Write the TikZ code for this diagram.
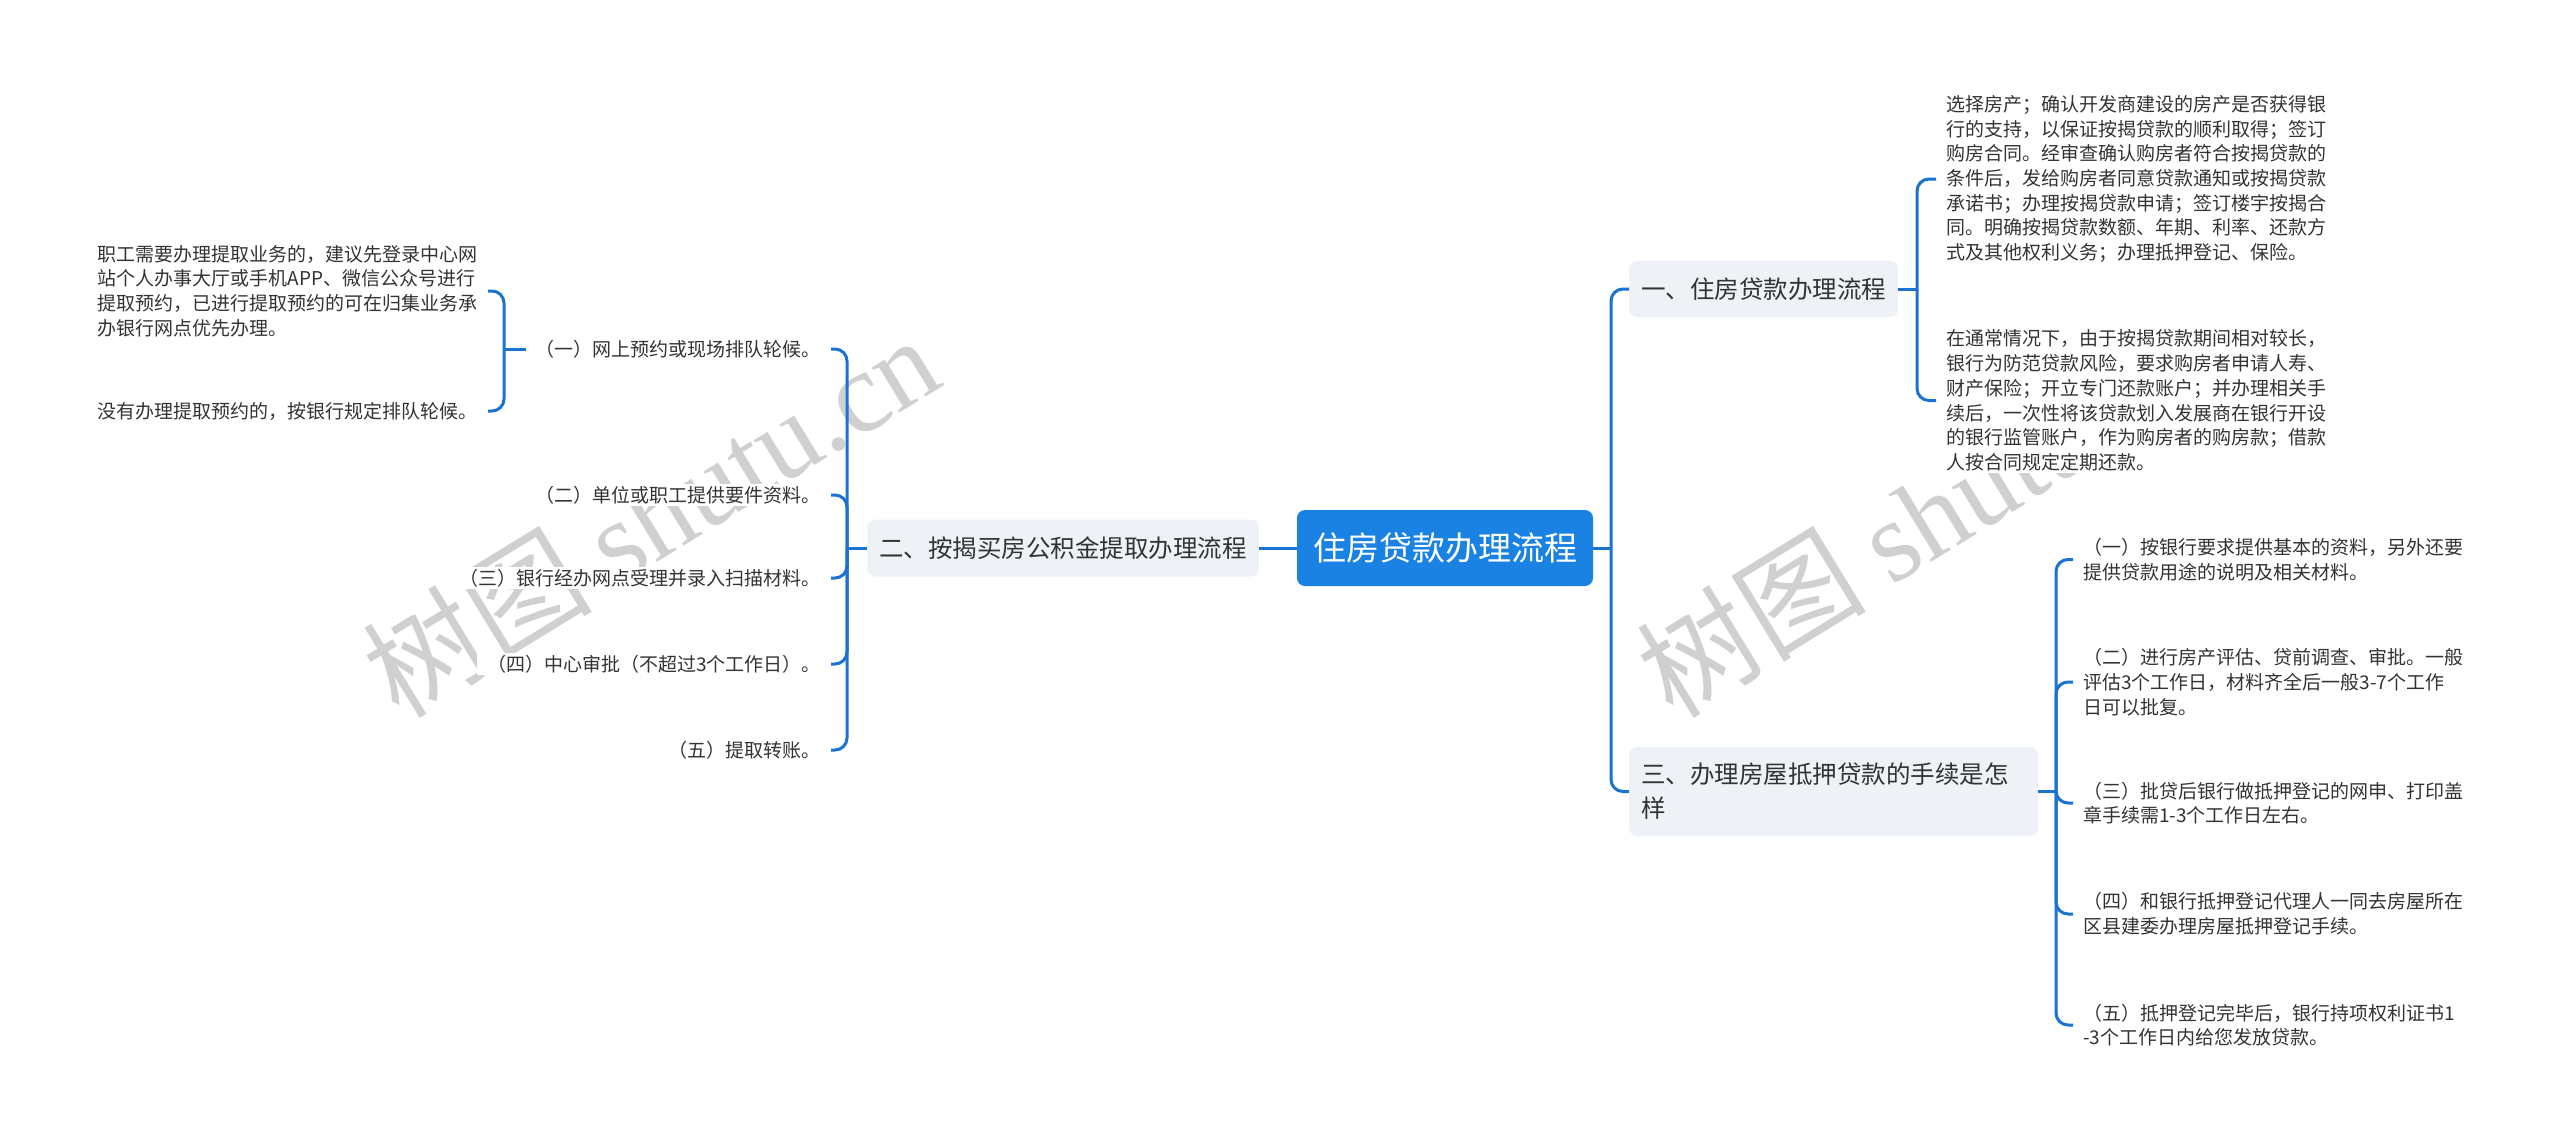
\documentclass[tikz,border=0pt]{standalone}
\usepackage{fontspec}
\setmainfont{Noto Sans CJK SC}
\newfontfamily\wmlatin{Liberation Serif}
\newfontfamily\wmcjk{Noto Sans CJK SC}
\definecolor{rootblue}{HTML}{1A82E2}
\definecolor{linkblue}{HTML}{1B73D1}
\definecolor{branchbg}{HTML}{EEF1F5}
\definecolor{txt}{HTML}{333333}
\definecolor{wmgray}{HTML}{D0D0D0}
\begin{document}
\begin{tikzpicture}[x=1pt,y=-1pt,
  rootbox/.style={fill=rootblue, rounded corners=8pt, text=white,
    font=\fontsize{33}{40}\selectfont, minimum width=296pt, minimum height=76pt, inner sep=0pt},
  branchbox/.style={fill=branchbg, rounded corners=8pt, text=txt,
    font=\fontsize{24.5}{34}\selectfont, inner xsep=12pt, inner ysep=4pt},
  leaf/.style={fill=white, text=txt, font=\fontsize{19}{24.7}\selectfont,
    inner xsep=10pt, inner ysep=2pt},
  link/.style={draw=linkblue, line width=3pt, rounded corners=12pt},
  watermark/.style={text=wmgray, rotate=31.5, inner sep=0pt}
]
\useasboundingbox (0,0) rectangle (2560,1140);
\fill[white] (0,0) rectangle (2560,1140);

% watermarks
\node[watermark] (wm1) at (650,515) {\fontsize{115}{120}\selectfont\wmcjk 树图 \wmlatin shutu.cn};
\node[watermark] (wm2) at (1924,515) {\fontsize{115}{120}\selectfont\wmcjk 树图 \wmlatin shutu.cn};

% root and branches
\node[rootbox] (root) at (1445,548) {住房贷款办理流程};
\node[branchbox, anchor=west, minimum height=56pt] (b1) at (1629,289) {一、住房贷款办理流程};
\node[branchbox, anchor=east, minimum height=57pt] (b2) at (1259,548) {二、按揭买房公积金提取办理流程};
\node[branchbox, anchor=west, minimum height=89pt, text width=385pt, align=left] (b3) at (1629,791.5) {三、办理房屋抵押贷款的手续是怎\\样};

% branch 1 leaves
\node[leaf, anchor=west, align=left] (l1a) at (1936,179) {选择房产；确认开发商建设的房产是否获得银\\行的支持，以保证按揭贷款的顺利取得；签订\\购房合同。经审查确认购房者符合按揭贷款的\\条件后，发给购房者同意贷款通知或按揭贷款\\承诺书；办理按揭贷款申请；签订楼宇按揭合\\同。明确按揭贷款数额、年期、利率、还款方\\式及其他权利义务；办理抵押登记、保险。};
\node[leaf, anchor=west, align=left] (l1b) at (1936,400.5) {在通常情况下，由于按揭贷款期间相对较长，\\银行为防范贷款风险，要求购房者申请人寿、\\财产保险；开立专门还款账户；并办理相关手\\续后，一次性将该贷款划入发展商在银行开设\\的银行监管账户，作为购房者的购房款；借款\\人按合同规定定期还款。};

% branch 3 leaves
\node[leaf, anchor=west, align=left] (c31) at (2073,559.5) {（一）按银行要求提供基本的资料，另外还要\\提供贷款用途的说明及相关材料。};
\node[leaf, anchor=west, align=left] (c32) at (2073,682) {（二）进行房产评估、贷前调查、审批。一般\\评估3个工作日，材料齐全后一般3-7个工作\\日可以批复。};
\node[leaf, anchor=west, align=left] (c33) at (2073,803) {（三）批贷后银行做抵押登记的网申、打印盖\\章手续需1-3个工作日左右。};
\node[leaf, anchor=west, align=left] (c34) at (2073,914) {（四）和银行抵押登记代理人一同去房屋所在\\区县建委办理房屋抵押登记手续。};
\node[leaf, anchor=west, align=left] (c35) at (2073,1025) {（五）抵押登记完毕后，银行持项权利证书1\\-3个工作日内给您发放贷款。};

% branch 2 leaves
\node[leaf, anchor=east] (c21) at (831,349) {（一）网上预约或现场排队轮候。};
\node[leaf, anchor=east] (c22) at (831,495) {（二）单位或职工提供要件资料。};
\node[leaf, anchor=east] (c23) at (831,578) {（三）银行经办网点受理并录入扫描材料。};
\node[leaf, anchor=east] (c24) at (831,664) {（四）中心审批（不超过3个工作日）。};
\node[leaf, anchor=east] (c25) at (831,750) {（五）提取转账。};

% (一) leaves
\node[leaf, anchor=east, align=left] (d1) at (488,291) {职工需要办理提取业务的，建议先登录中心网\\站个人办事大厅或手机APP、微信公众号进行\\提取预约，已进行提取预约的可在归集业务承\\办银行网点优先办理。};
\node[leaf, anchor=east] (d2) at (488,411) {没有办理提取预约的，按银行规定排队轮候。};

% spine coordinates
\coordinate (s0) at (1611,548);
\coordinate (s1) at (1917,289);
\coordinate (s2) at (847,548);
\coordinate (s3) at (2056,791.5);
\coordinate (s21) at (504,349);

% connectors
\draw[link] (root.west) -- (b2.east);
\draw[link] (root.east) -- (s0);
\draw[link] (s0) |- (b1.west);
\draw[link] (s0) |- (b3.west);

\draw[link] (b1.east) -- (s1);
\draw[link] (s1) |- (l1a.west);
\draw[link] (s1) |- (l1b.west);

\draw[link] (b3.east) -- (s3);
\foreach \n in {c31,c32,c33,c34,c35} \draw[link] (s3) |- (\n.west);

\draw[link] (b2.west) -- (s2);
\foreach \n in {c21,c22,c23,c24,c25} \draw[link] (s2) |- (\n.east);

\draw[link] (c21.west) -- (s21);
\draw[link] (s21) |- (d1.east);
\draw[link] (s21) |- (d2.east);
\end{tikzpicture}
\end{document}
